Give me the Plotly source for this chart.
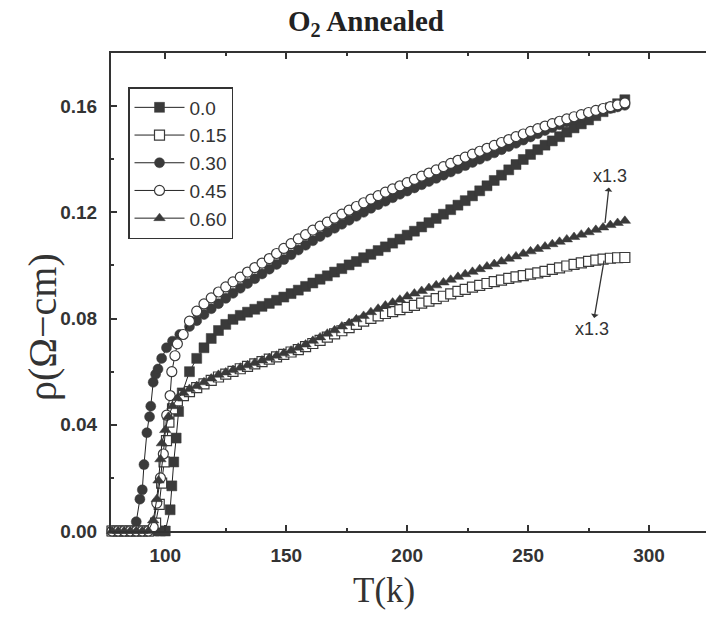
import plotly.graph_objects as go

# ---------------- data ----------------
T_HI = [110, 113, 116, 119, 122, 125, 128, 131, 134, 137, 140, 143, 146, 149, 152, 155,
        158, 161, 164, 167, 170, 173, 176, 179, 182, 185, 188, 191, 194, 197, 200, 203,
        206, 209, 212, 215, 218, 221, 224, 227, 230, 233, 236, 239, 242, 245, 248, 251,
        254, 257, 260, 263, 266, 269, 272, 275, 278, 281, 284, 287, 290]

# x = 0.0 (filled squares)
T_00_LOW = [78, 80.5, 83, 85.5, 88, 90.5, 93, 95.5, 98, 100, 102, 102.7, 103.5, 104.5,
            105.5, 107]
R_00_LOW = [0, 0, 0, 0, 0, 0, 0, 0, 0, 0, 0.008, 0.017, 0.026, 0.035, 0.045, 0.052]
R_00_HI = [0.0600, 0.0650, 0.0690, 0.0725, 0.0755, 0.0778, 0.0797, 0.0812, 0.0824, 0.0835,
           0.0846, 0.0857, 0.0869, 0.0881, 0.0894, 0.0907, 0.0921, 0.0934, 0.0948, 0.0961,
           0.0975, 0.0988, 0.1002, 0.1015, 0.1029, 0.1042, 0.1056, 0.1070, 0.1084, 0.1099,
           0.1114, 0.1129, 0.1145, 0.1161, 0.1177, 0.1193, 0.1210, 0.1227, 0.1244, 0.1262,
           0.1281, 0.1300, 0.1320, 0.1340, 0.1360, 0.1380, 0.1399, 0.1418, 0.1436, 0.1453,
           0.1469, 0.1485, 0.1502, 0.1518, 0.1533, 0.1548, 0.1564, 0.1579, 0.1594, 0.1609,
           0.1624]

# x = 0.15 (open squares)
T_15_LOW = [78, 80.5, 83, 85.5, 88, 90.5, 93, 96, 97.5, 98.5, 99.5, 100.5, 101.5, 103,
            105, 107.5]
R_15_LOW = [0, 0, 0, 0, 0, 0, 0, 0.003, 0.010, 0.018, 0.026, 0.034, 0.041, 0.046, 0.049,
            0.051]
R_15_HI = [0.0525, 0.0540, 0.0554, 0.0567, 0.0580, 0.0591, 0.0601, 0.0611, 0.0620, 0.0629,
           0.0638, 0.0647, 0.0656, 0.0665, 0.0674, 0.0683, 0.0694, 0.0706, 0.0718, 0.0730,
           0.0742, 0.0754, 0.0766, 0.0778, 0.0790, 0.0801, 0.0810, 0.0819, 0.0826, 0.0834,
           0.0842, 0.0850, 0.0858, 0.0866, 0.0875, 0.0884, 0.0893, 0.0902, 0.0910, 0.0918,
           0.0925, 0.0932, 0.0939, 0.0945, 0.0951, 0.0957, 0.0962, 0.0967, 0.0972, 0.0978,
           0.0985, 0.0991, 0.0998, 0.1004, 0.1010, 0.1015, 0.1020, 0.1024, 0.1027, 0.1029,
           0.1030]

# x = 0.30 (filled circles)
T_30_LOW = [78, 80, 82, 84, 86, 88, 89.5, 90.5, 91.2, 92.4, 93.5, 94, 95, 96, 97, 98.5,
            100.5, 103, 106]
R_30_LOW = [0, 0, 0, 0, 0, 0.0035, 0.012, 0.0155, 0.025, 0.037, 0.043, 0.047, 0.056,
            0.059, 0.061, 0.065, 0.069, 0.0715, 0.074]
R_30_HI = [0.0770, 0.0792, 0.0815, 0.0837, 0.0856, 0.0876, 0.0895, 0.0914, 0.0932, 0.0950,
           0.0968, 0.0986, 0.1004, 0.1022, 0.1040, 0.1058, 0.1076, 0.1093, 0.1109, 0.1125,
           0.1140, 0.1155, 0.1170, 0.1185, 0.1200, 0.1215, 0.1229, 0.1242, 0.1255, 0.1268,
           0.1280, 0.1292, 0.1304, 0.1316, 0.1328, 0.1340, 0.1352, 0.1364, 0.1376, 0.1388,
           0.1400, 0.1412, 0.1424, 0.1436, 0.1448, 0.1460, 0.1472, 0.1484, 0.1496, 0.1508,
           0.1519, 0.1530, 0.1540, 0.1549, 0.1558, 0.1567, 0.1576, 0.1584, 0.1591, 0.1597,
           0.1603]

# x = 0.45 (open circles)
T_45_LOW = [78, 80.5, 83, 85.5, 88, 90.5, 93, 95, 96.5, 98, 99.2, 100.6, 102, 102.7, 104,
            105, 107.4]
R_45_LOW = [0, 0, 0, 0, 0, 0, 0, 0.0015, 0.0105, 0.020, 0.029, 0.0436, 0.051, 0.060,
            0.066, 0.0705, 0.074]
R_45_HI = [0.0790, 0.0828, 0.0855, 0.0878, 0.0900, 0.0919, 0.0938, 0.0956, 0.0975, 0.0992,
           0.1009, 0.1026, 0.1045, 0.1064, 0.1082, 0.1100, 0.1116, 0.1133, 0.1148, 0.1163,
           0.1178, 0.1193, 0.1208, 0.1222, 0.1236, 0.1250, 0.1263, 0.1276, 0.1288, 0.1300,
           0.1312, 0.1324, 0.1336, 0.1348, 0.1360, 0.1372, 0.1384, 0.1396, 0.1408, 0.1419,
           0.1430, 0.1441, 0.1452, 0.1463, 0.1474, 0.1485, 0.1495, 0.1505, 0.1515, 0.1525,
           0.1534, 0.1543, 0.1552, 0.1560, 0.1568, 0.1576, 0.1584, 0.1591, 0.1598, 0.1605,
           0.1612]

# x = 0.60 (filled triangles)
T_60_LOW = [78, 80.5, 83, 85.5, 88, 90.5, 93, 95, 96.5, 97.2, 98, 98.6, 100, 101.3, 103,
            105, 107.5]
R_60_LOW = [0, 0, 0, 0, 0, 0, 0, 0.004, 0.012, 0.019, 0.027, 0.033, 0.038, 0.043, 0.047,
            0.050, 0.052]
R_60_HI = [0.0535, 0.0546, 0.0560, 0.0574, 0.0588, 0.0597, 0.0606, 0.0615, 0.0624, 0.0633,
           0.0642, 0.0651, 0.0660, 0.0669, 0.0679, 0.0690, 0.0702, 0.0716, 0.0729, 0.0743,
           0.0756, 0.0770, 0.0783, 0.0797, 0.0810, 0.0824, 0.0837, 0.0849, 0.0860, 0.0871,
           0.0883, 0.0894, 0.0904, 0.0915, 0.0925, 0.0936, 0.0946, 0.0957, 0.0967, 0.0976,
           0.0986, 0.0996, 0.1005, 0.1015, 0.1025, 0.1034, 0.1044, 0.1053, 0.1062, 0.1071,
           0.1080, 0.1089, 0.1098, 0.1107, 0.1116, 0.1125, 0.1134, 0.1143, 0.1152, 0.1160,
           0.1168]

LABELS = ["0.0", "0.15", "0.30", "0.45", "0.60"]
X_TICKS = [100, 150, 200, 250, 300]
Y_TICKS = [0.00, 0.04, 0.08, 0.12, 0.16]
NOTE = "x1.3"

# ---------------- styling ----------------
DARK = "#3a3a3a"
AX = "#333333"
series = [
    (LABELS[0], T_00_LOW + T_HI, R_00_LOW + R_00_HI, "square", False),
    (LABELS[1], T_15_LOW + T_HI, R_15_LOW + R_15_HI, "square", True),
    (LABELS[2], T_30_LOW + T_HI, R_30_LOW + R_30_HI, "circle", False),
    (LABELS[3], T_45_LOW + T_HI, R_45_LOW + R_45_HI, "circle", True),
    (LABELS[4], T_60_LOW + T_HI, R_60_LOW + R_60_HI, "triangle-up", False),
]

fig = go.Figure()
for name, t, r, sym, open_ in series:
    fig.add_trace(go.Scatter(
        x=t, y=r, name=name, mode="lines+markers", cliponaxis=False,
        line=dict(color="#222222", width=1),
        marker=dict(symbol=sym, size=10,
                    color="white" if open_ else DARK,
                    line=dict(color=DARK, width=1.2 if open_ else 0.5)),
    ))

W, H = 706, 618
L, R, T, B = 111, 0, 53, 87
pw, ph = W - L - R, H - T - B


def px(xp):
    return (xp - L) / pw


def py(yp):
    return (H - B - yp) / ph


tickfont = dict(family="Liberation Sans, Arial", size=19, color=AX, weight="bold")

fig.update_layout(
    width=W, height=H,
    margin=dict(l=L, r=R, t=T, b=B, pad=0),
    paper_bgcolor="white", plot_bgcolor="white",
    title=dict(text="O<sub>2</sub> Annealed", x=366 / W, xanchor="center",
               y=1 - 21 / H, yanchor="middle",
               font=dict(family="Liberation Serif, Times New Roman", size=29,
                         color="#222222", weight="bold")),
    legend=dict(x=px(128), y=py(87), xanchor="left", yanchor="top",
                bordercolor=AX, borderwidth=1.5, bgcolor="white",
                font=dict(family="Liberation Sans, Arial", size=19, color=AX),
                itemwidth=50, tracegroupgap=0),
    showlegend=True,
)

fig.update_xaxes(
    range=[77.56, 323.55], tickvals=X_TICKS, ticktext=[str(v) for v in X_TICKS],
    ticks="inside", ticklen=6, tickwidth=2, tickcolor=AX,
    minor=dict(dtick=25, tick0=0, ticks="inside", ticklen=3, tickwidth=1.5, tickcolor=AX),
    showline=True, linewidth=2, linecolor=AX, mirror="ticks",
    showgrid=False, zeroline=False, tickfont=tickfont, ticklabelstandoff=6,
)
fig.update_yaxes(
    range=[0, 0.18], tickvals=Y_TICKS, ticktext=["%.2f" % v for v in Y_TICKS],
    ticks="inside", ticklen=6, tickwidth=2, tickcolor=AX,
    minor=dict(dtick=0.02, tick0=0, ticks="inside", ticklen=3, tickwidth=1.5, tickcolor=AX),
    showline=True, linewidth=2, linecolor=AX, mirror=False,
    showgrid=False, zeroline=False, tickfont=tickfont, ticklabelstandoff=8,
)

# axis titles
fig.add_annotation(text="ρ(Ω−cm)", xref="paper", yref="paper", x=px(42), y=py(327),
                   textangle=-90, showarrow=False, xanchor="center", yanchor="middle",
                   font=dict(family="Liberation Serif, Times New Roman", size=40, color=AX))
fig.add_annotation(text="T(k)", xref="paper", yref="paper", x=px(384), y=py(590),
                   showarrow=False, xanchor="center", yanchor="middle",
                   font=dict(family="Liberation Serif, Times New Roman", size=35, color=AX))

# x1.3 notes with arrows pointing from the curve toward the note
note_font = dict(family="Liberation Sans, Arial", size=18, color=AX)
fig.add_annotation(text=NOTE, x=281.8, y=0.116, ax=283.9, ay=0.1337, xref="x", yref="y",
                   axref="x", ayref="y", showarrow=True, arrowside="start", arrowhead=2,
                   arrowsize=1, arrowwidth=1.3, arrowcolor=AX, standoff=0, startstandoff=0,
                   font=note_font)
fig.add_annotation(text=NOTE, x=281.4, y=0.1018, ax=276.5, ay=0.0759, xref="x", yref="y",
                   axref="x", ayref="y", showarrow=True, arrowside="start", arrowhead=2,
                   arrowsize=1, arrowwidth=1.3, arrowcolor=AX, standoff=0, startstandoff=0,
                   font=note_font)

fig.write_html("out.html")
